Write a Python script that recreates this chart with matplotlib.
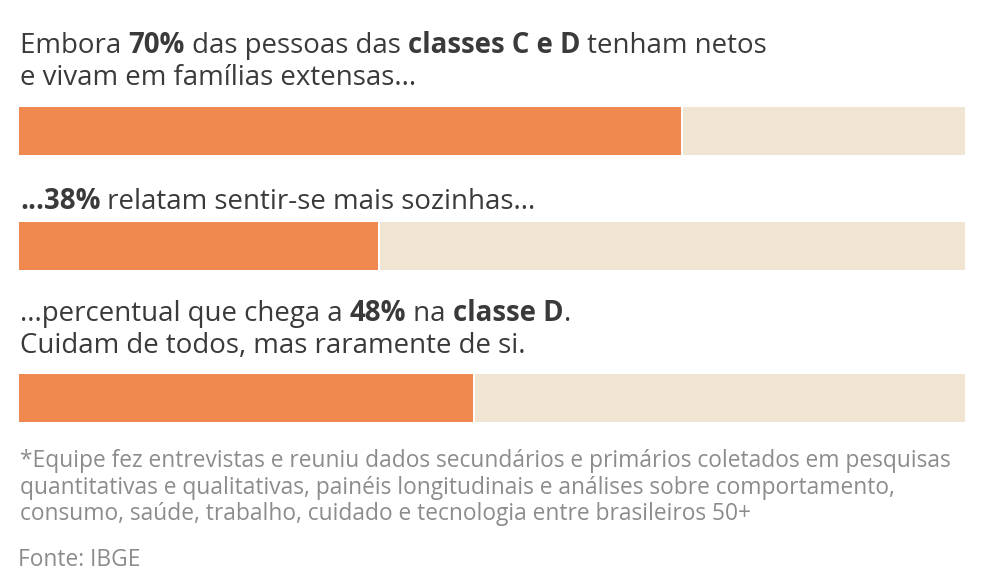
import matplotlib
matplotlib.use("Agg")
import matplotlib.pyplot as plt
from matplotlib.font_manager import FontProperties

# ---------------- data ----------------
categories = ["Classes C e D com netos", "Sentem-se mais sozinhas", "Classe D"]
values = [70, 38, 48]
total = 100

headline_lines = [
    [[("Embora ", False), ("70%", True), (" das pessoas das ", False), ("classes C e D", True), (" tenham netos", False)],
     [("e vivam em famílias extensas...", False)]],
    [[("...38%", True), (" relatam sentir-se mais sozinhas...", False)]],
    [[("...percentual que chega a ", False), ("48%", True), (" na ", False), ("classe D", True), (".", False)],
     [("Cuidam de todos, mas raramente de si.", False)]],
]
footnote_lines = [
    "*Equipe fez entrevistas e reuniu dados secundários e primários coletados em pesquisas",
    "quantitativas e qualitativas, painéis longitudinais e análises sobre comportamento,",
    "consumo, saúde, trabalho, cuidado e tecnologia entre brasileiros 50+",
]
source = "Fonte: IBGE"

# ---------------- style ----------------
W, H = 984, 583
FAM = "Open Sans"
ORANGE = "#EF894F"
BEIGE = "#F0E5D3"
TEXT = "#3a3a3a"
GRAY = "#8c8c8c"

fig = plt.figure(figsize=(W / 100, H / 100), dpi=100)
fig.patch.set_facecolor("white")
renderer = fig.canvas.get_renderer()


def fp(size, bold=False):
    return FontProperties(family=FAM, weight="bold" if bold else "normal", size=size)


def measure(s, size, bold=False):
    prop = fp(size, bold)
    w1, _, _ = renderer.get_text_width_height_descent("|" + s + "|", prop, ismath=False)
    w0, _, _ = renderer.get_text_width_height_descent("||", prop, ismath=False)
    return w1 - w0


def seg_width(segs, size):
    return sum(measure(t, size, b) for t, b in segs)


def draw_rich(x, y_top, segs, size, color):
    cx = x
    for t, b in segs:
        fig.text(cx / W, 1 - y_top / H, t, fontproperties=fp(size, b), color=color,
                 ha="left", va="baseline")
        cx += measure(t, size, b)


# fit font sizes to reference widths
ref = 15
title_size = ref * 748 / seg_width(headline_lines[0][0], ref)
foot_size = ref * 933 / measure(footnote_lines[0], ref)

# ---------------- bars ----------------
ax = fig.add_axes([19 / W, 0, (965 - 19) / W, 1])
ax.set_xlim(0, total)
ax.set_ylim(H, 0)
ax.axis("off")

bar_centers = [131, 246, 397.5]
bar_h = 48
for yc, v in zip(bar_centers, values):
    ax.barh(yc, v, height=bar_h, left=0, color=ORANGE, linewidth=0)
    ax.barh(yc, total - v - 0.2, height=bar_h, left=v + 0.2, color=BEIGE, linewidth=0)

# ---------------- texts ----------------
baselines = [[53, 85], [209], [321, 353]]
for lines, bls in zip(headline_lines, baselines):
    for segs, bl in zip(lines, bls):
        draw_rich(20, bl, segs, title_size, TEXT)

for i, line in enumerate(footnote_lines):
    fig.text(20 / W, 1 - (467 + i * 26.5) / H, line, fontproperties=fp(foot_size),
             color=GRAY, ha="left", va="baseline")

fig.text(18 / W, 1 - 566 / H, source, fontproperties=fp(foot_size), color=GRAY,
         ha="left", va="baseline")

fig.savefig("out.png", dpi=100, facecolor="white")
